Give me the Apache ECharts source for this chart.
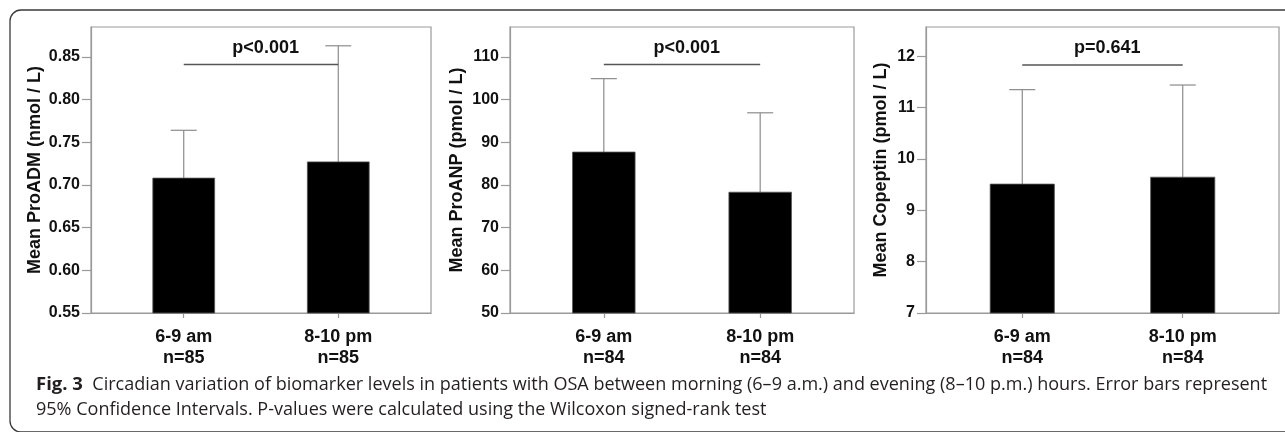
<!DOCTYPE html>
<html>
<head>
<meta charset="utf-8">
<script src="https://cdn.jsdelivr.net/npm/echarts@6/dist/echarts.min.js"></script>
<style>html,body{margin:0;padding:0;background:#fff;}#c{width:1285px;height:432px;}</style>
</head>
<body>
<div id="c"></div>
<script>
// ---- data ----
var categories = ['6-9 am', '8-10 pm'];
var nLabels1 = ['n=85', 'n=85'];
var nLabels2 = ['n=84', 'n=84'];
var nLabels3 = ['n=84', 'n=84'];
var yNames = ['Mean ProADM (nmol / L)', 'Mean ProANP (pmol / L)', 'Mean Copeptin (pmol / L)'];
var meanProADM = [0.708, 0.727];
var upperProADM = [0.764, 0.863];
var meanProANP = [87.7, 78.3];
var upperProANP = [104.9, 96.9];
var meanCopeptin = [9.51, 9.645];
var upperCopeptin = [11.35, 11.44];
var pLabels = ['p<0.001', 'p<0.001', 'p=0.641'];
var sigLevels = [0.841, 108.2, 11.83];
var yTicks1 = [0.55, 0.60, 0.65, 0.70, 0.75, 0.80, 0.85];
var yTicks2 = [50, 60, 70, 80, 90, 100, 110];
var yTicks3 = [7, 8, 9, 10, 11, 12];
var yRanges = [[0.55, 0.885], [50, 117], [7, 12.57]];
var captionBold = 'Fig. 3';
var captionLine1 = 'Circadian variation of biomarker levels in patients with OSA between morning (6\u20139 a.m.) and evening (8\u201310 p.m.) hours. Error bars represent';
var captionLine2 = '95% Confidence Intervals. P-values were calculated using the Wilcoxon signed-rank test';

// ---- layout ----
var grids = [
  {left: 91, top: 27, width: 340, height: 286},
  {left: 510, top: 27, width: 344, height: 286},
  {left: 926, top: 27, width: 353, height: 286}
];
var nameGaps = [47, 44, 36];
var panels = [
  {mean: meanProADM, upper: upperProADM, n: nLabels1, ticks: yTicks1, fmt: function (v) { return v.toFixed(2); }},
  {mean: meanProANP, upper: upperProANP, n: nLabels2, ticks: yTicks2, fmt: function (v) { return String(v); }},
  {mean: meanCopeptin, upper: upperCopeptin, n: nLabels3, ticks: yTicks3, fmt: function (v) { return String(v); }}
];
var FONT = '"Liberation Sans", Arial, Helvetica, sans-serif';
var CAPFONT = '"Open Sans", sans-serif';
var AX = '#9a9a9a';

var option = {
  animation: false,
  backgroundColor: '#fff',
  grid: [], xAxis: [], yAxis: [], series: [],
  graphic: [
    {type: 'rect', z: -1, shape: {x: 10, y: 10, width: 1320, height: 422, r: 11},
     style: {fill: 'none', stroke: '#3a3a3a', lineWidth: 1.3}},
    {type: 'text', x: 36, y: 385,
     style: {text: '{b|' + captionBold + '}  ' + captionLine1, fill: '#231f20',
             font: '18.05px ' + CAPFONT, verticalAlign: 'middle',
             rich: {b: {fontWeight: 'bold', fontSize: 18.5, fontFamily: CAPFONT, fill: '#231f20'}}}},
    {type: 'text', x: 36, y: 410,
     style: {text: captionLine2, fill: '#231f20', font: '18.05px ' + CAPFONT, verticalAlign: 'middle'}}
  ]
};

panels.forEach(function (p, i) {
  option.grid.push({left: grids[i].left, top: grids[i].top, width: grids[i].width, height: grids[i].height,
    show: true, borderColor: AX, borderWidth: 1.2, backgroundColor: '#fff'});
  option.xAxis.push({
    type: 'value', gridIndex: i, min: -0.6, max: 1.6,
    splitLine: {show: false},
    axisLine: {show: true, onZero: false, lineStyle: {color: AX, width: 1.2}},
    axisTick: {show: true, length: 5, customValues: [0, 1], lineStyle: {color: AX, width: 1.2}},
    axisLabel: {customValues: [0, 1], margin: 14, color: '#111', fontFamily: FONT, fontWeight: 'bold',
      fontSize: 18, lineHeight: 21,
      formatter: function (v) { var k = Math.round(v); return categories[k] + '\n' + p.n[k]; }}
  });
  option.yAxis.push({
    type: 'value', gridIndex: i, min: yRanges[i][0], max: yRanges[i][1],
    name: yNames[i], nameLocation: 'middle', nameRotate: 90, nameGap: nameGaps[i],
    nameTextStyle: {color: '#111', fontFamily: FONT, fontWeight: 'bold', fontSize: 18},
    splitLine: {show: false},
    axisLine: {show: true, onZero: false, lineStyle: {color: AX, width: 1.2}},
    axisTick: {show: true, length: 9, customValues: p.ticks, lineStyle: {color: AX, width: 1.2}},
    axisLabel: {customValues: p.ticks, margin: 11, color: '#111', fontFamily: FONT, fontWeight: 'bold',
      fontSize: 16, formatter: p.fmt}
  });
  var data = p.mean.map(function (m, k) { return [k, m, p.upper[k]]; });
  // bars + error bars
  option.series.push({
    type: 'custom', xAxisIndex: i, yAxisIndex: i, data: data, encode: {x: 0, y: 1},
    renderItem: function (params, api) {
      var x = api.value(0), m = api.value(1), u = api.value(2);
      var top = api.coord([x, m]);
      var base = api.coord([x, yRanges[i][0]]);
      var up = api.coord([x, u]);
      var w = api.size([0.4, 0])[0];
      return {type: 'group', children: [
        {type: 'line', shape: {x1: top[0], y1: up[1], x2: top[0], y2: top[1]},
         style: {stroke: '#8c8c8c', lineWidth: 1.2}},
        {type: 'line', shape: {x1: top[0] - 13, y1: up[1], x2: top[0] + 13, y2: up[1]},
         style: {stroke: '#8c8c8c', lineWidth: 1.2}},
        {type: 'rect', shape: {x: top[0] - w / 2, y: top[1], width: w, height: base[1] - top[1]},
         style: {fill: '#000', stroke: '#555', lineWidth: 0.8}}
      ]};
    }
  });
  // significance bracket and p label
  option.series.push({
    type: 'custom', xAxisIndex: i, yAxisIndex: i, data: [[0, 1, sigLevels[i]]],
    renderItem: function (params, api) {
      var a = api.coord([api.value(0), api.value(2)]);
      var b = api.coord([api.value(1), api.value(2)]);
      var t = api.coord([0.53, api.value(2)]);
      return {type: 'group', children: [
        {type: 'line', shape: {x1: a[0], y1: a[1], x2: b[0], y2: b[1]},
         style: {stroke: '#555', lineWidth: 1.4}},
        {type: 'text', x: t[0], y: t[1] - 8,
         style: {text: pLabels[i], fill: '#111', font: 'bold 18px ' + FONT,
                 align: 'center', verticalAlign: 'bottom'}}
      ]};
    }
  });
});

var chart = echarts.init(document.getElementById('c'), null, {renderer: 'canvas'});
chart.setOption(option);
</script>
</body>
</html>
